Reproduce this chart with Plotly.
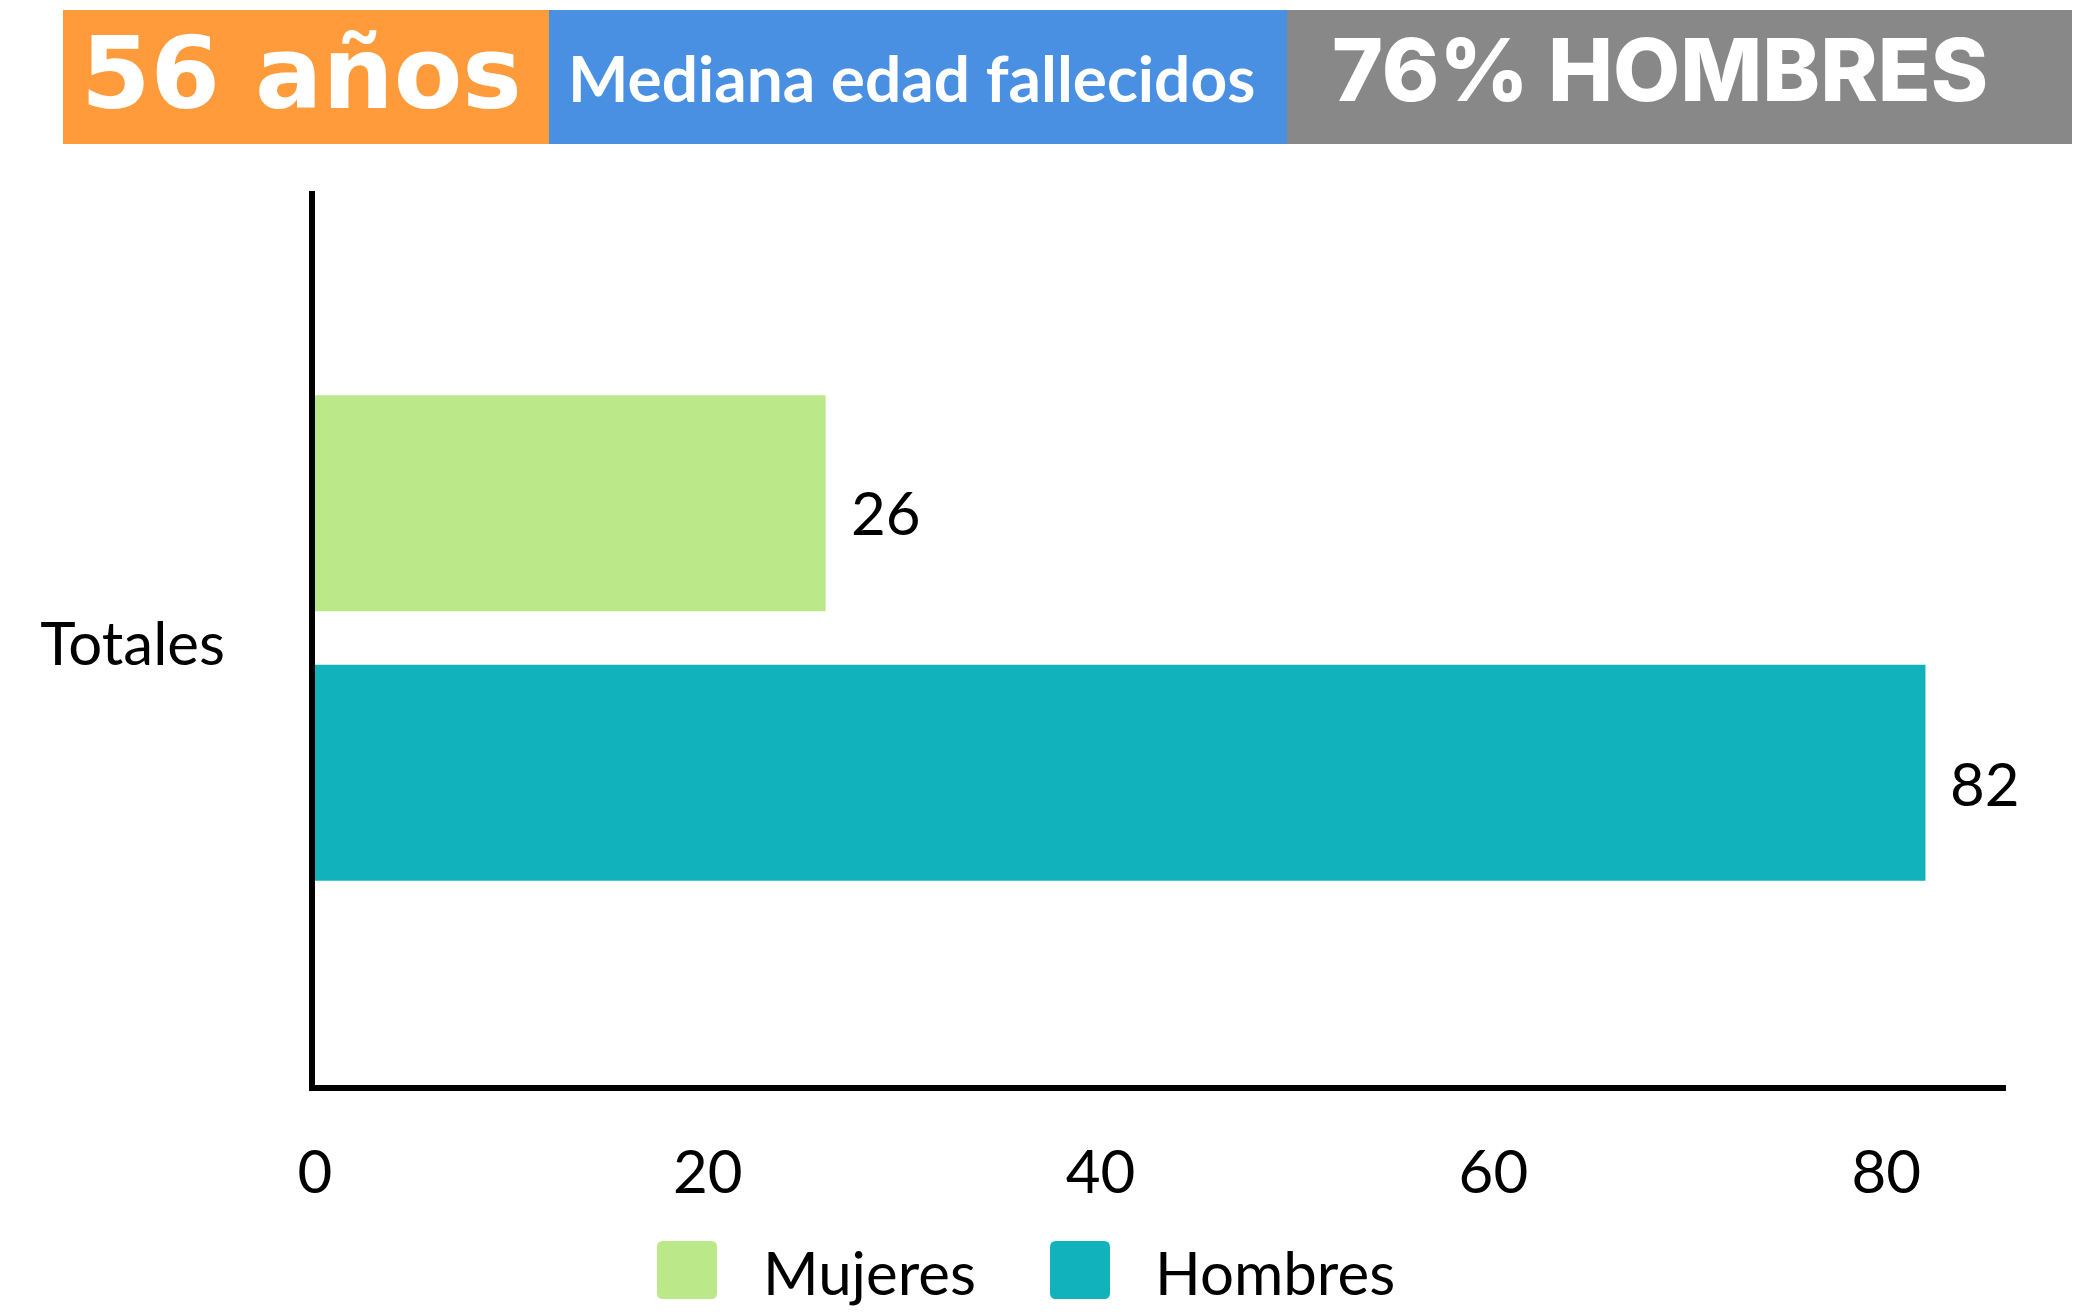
import plotly.graph_objects as go

# ---- data ----
categories = ["Totales"]
series_names = ["Mujeres", "Hombres"]
mujeres = [26]
hombres = [82]
x_ticks = [0, 20, 40, 60, 80]
header_left = "56 años"
header_mid = "Mediana edad fallecidos"
header_right = "76% HOMBRES"

colors = {"Mujeres": "#BBE989", "Hombres": "#11B2BC"}

W, H = 2093, 1315
OFF = 8  # page body margin
# plot area in screen pixels: x 315..2006, y 191..1085
L = 315 - OFF
T = 191 - OFF
R = W - (2006 - OFF)
B = H - (1085 - OFF)
pw, ph = W - L - R, H - T - B


def px_x(x):
    return (x - OFF - L) / pw


def px_y(y):
    return (H - B - (y - OFF)) / ph


fig = go.Figure()
# Hombres first so that Mujeres sits on top in horizontal grouped bars
fig.add_trace(go.Bar(y=categories, x=hombres, name="Hombres", orientation="h",
                     marker=dict(color=colors["Hombres"], line=dict(width=0)), showlegend=False))
fig.add_trace(go.Bar(y=categories, x=mujeres, name="Mujeres", orientation="h",
                     marker=dict(color=colors["Mujeres"], line=dict(width=0)), showlegend=False))

tick_font = dict(family="Lato, sans-serif", size=60, color="#000000")

annotations = []
# value labels
for vals, shift in ((mujeres, 126), (hombres, -145)):
    for cat, v in zip(categories, vals):
        annotations.append(dict(x=v, y=cat, xref="x", yref="y", text=str(v), showarrow=False,
                                xanchor="left", yanchor="middle", xshift=23, yshift=shift,
                                font=tick_font))

shapes = []
# header boxes
hdr = [(63, 549, "#FF9B3B"), (549, 1287, "#4A90E2"), (1287, 2072, "#888888")]
for x0, x1, c in hdr:
    shapes.append(dict(type="rect", xref="paper", yref="paper", x0=px_x(x0), x1=px_x(x1),
                       y0=px_y(144), y1=px_y(10), fillcolor=c, line=dict(width=0), layer="above"))

annotations.append(dict(x=px_x(79), y=px_y(73), xref="paper", yref="paper", text=header_left,
                        showarrow=False, xanchor="left", yanchor="middle",
                        font=dict(family="DejaVu Sans, sans-serif", size=100, color="white", weight=700)))
annotations.append(dict(x=px_x(566), y=px_y(77), xref="paper", yref="paper", text=header_mid,
                        showarrow=False, xanchor="left", yanchor="middle",
                        font=dict(family="Lato, sans-serif", size=64, color="white", weight=700)))
annotations.append(dict(x=px_x(1330), y=px_y(70), xref="paper", yref="paper", text=header_right,
                        showarrow=False, xanchor="left", yanchor="middle",
                        font=dict(family="Inter, Open Sans, sans-serif", size=87, color="white", weight=800)))

# manual legend with large rounded swatches
legend_items = [("Mujeres", 657, 717, 761), ("Hombres", 1050, 1110, 1153)]
for name, sx0, sx1, tx in legend_items:
    y0, y1 = 1241, 1299
    r = 6
    path = (f"M{px_x(sx0 + r)},{px_y(y0)} L{px_x(sx1 - r)},{px_y(y0)} "
            f"Q{px_x(sx1)},{px_y(y0)} {px_x(sx1)},{px_y(y0 + r)} "
            f"L{px_x(sx1)},{px_y(y1 - r)} Q{px_x(sx1)},{px_y(y1)} {px_x(sx1 - r)},{px_y(y1)} "
            f"L{px_x(sx0 + r)},{px_y(y1)} Q{px_x(sx0)},{px_y(y1)} {px_x(sx0)},{px_y(y1 - r)} "
            f"L{px_x(sx0)},{px_y(y0 + r)} Q{px_x(sx0)},{px_y(y0)} {px_x(sx0 + r)},{px_y(y0)} Z")
    shapes.append(dict(type="path", xref="paper", yref="paper", path=path,
                       fillcolor=colors[name], line=dict(width=0)))
    annotations.append(dict(x=px_x(tx), y=px_y(1272), xref="paper", yref="paper", text=name,
                            showarrow=False, xanchor="left", yanchor="middle", font=tick_font))

fig.update_layout(
    width=W, height=H,
    margin=dict(l=L, r=R, t=T, b=B, pad=0),
    paper_bgcolor="white", plot_bgcolor="white",
    barmode="group", bargap=0.397, bargroupgap=0.198,
    showlegend=False,
    shapes=shapes, annotations=annotations,
    font=tick_font,
)
fig.update_xaxes(range=[0, 86.1], tickvals=x_ticks, ticktext=[str(t) for t in x_ticks],
                 showline=True, linecolor="black", linewidth=6, showgrid=False, zeroline=False,
                 ticks="", tickfont=tick_font, ticklabelstandoff=30, fixedrange=True)
fig.update_yaxes(range=[-0.5, 0.5], showline=True, linecolor="black", linewidth=6,
                 showgrid=False, zeroline=False, ticks="", tickfont=tick_font,
                 ticklabelstandoff=72, ticklabelshift=6, fixedrange=True)

fig.write_html("out.html")
